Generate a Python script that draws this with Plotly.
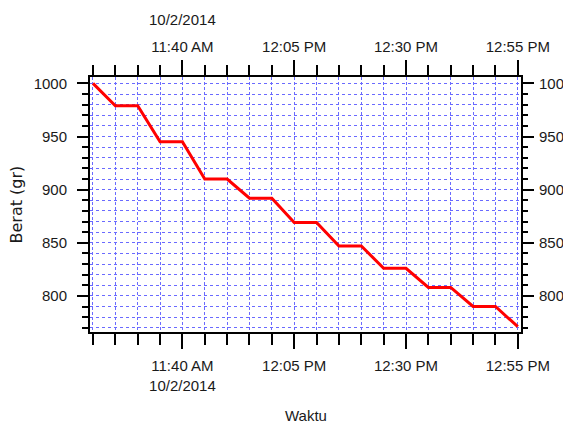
import plotly.graph_objects as go

# ---- data ----
times = ["2014-10-02 11:20:00", "2014-10-02 11:25:00", "2014-10-02 11:30:00",
         "2014-10-02 11:35:00", "2014-10-02 11:40:00", "2014-10-02 11:45:00",
         "2014-10-02 11:50:00", "2014-10-02 11:55:00", "2014-10-02 12:00:00",
         "2014-10-02 12:05:00", "2014-10-02 12:10:00", "2014-10-02 12:15:00",
         "2014-10-02 12:20:00", "2014-10-02 12:25:00", "2014-10-02 12:30:00",
         "2014-10-02 12:35:00", "2014-10-02 12:40:00", "2014-10-02 12:45:00",
         "2014-10-02 12:50:00", "2014-10-02 12:55:00"]
berat = [1000, 979, 979, 945, 945, 910, 910, 892, 892, 869,
         869, 847, 847, 826, 826, 808, 808, 790, 790, 771]

# tick positions (every 5 minutes) and labelled major ticks
x_ticks_all = ["2014-10-02 11:20", "2014-10-02 11:25", "2014-10-02 11:30",
               "2014-10-02 11:35", "2014-10-02 11:40", "2014-10-02 11:45",
               "2014-10-02 11:50", "2014-10-02 11:55", "2014-10-02 12:00",
               "2014-10-02 12:05", "2014-10-02 12:10", "2014-10-02 12:15",
               "2014-10-02 12:20", "2014-10-02 12:25", "2014-10-02 12:30",
               "2014-10-02 12:35", "2014-10-02 12:40", "2014-10-02 12:45",
               "2014-10-02 12:50", "2014-10-02 12:55"]
x_major = ["2014-10-02 11:40", "2014-10-02 12:05", "2014-10-02 12:30", "2014-10-02 12:55"]
x_labels_bottom = ["11:40 AM<br>10/2/2014", "12:05 PM", "12:30 PM", "12:55 PM"]
x_labels_top = ["11:40 AM", "12:05 PM", "12:30 PM", "12:55 PM"]
date_label = "10/2/2014"
y_ticks_all = [770, 780, 790, 800, 810, 820, 830, 840, 850, 860, 870, 880,
               890, 900, 910, 920, 930, 940, 950, 960, 970, 980, 990, 1000]
y_major = [800, 850, 900, 950, 1000]
y_labels = ["800", "850", "900", "950", "1000"]

x_range = ["2014-10-02 11:19:20", "2014-10-02 12:55:43"]
y_range = [766, 1006]

FONT = "Liberation Sans, Arial, sans-serif"
TXT = "#1a1a1a"
GRID = "#6a6aff"


def full_text(all_vals, major_vals, labels):
    m = dict(zip(major_vals, labels))
    return [m.get(v, "") for v in all_vals]


xb_text = full_text(x_ticks_all, x_major, x_labels_bottom)
xt_text = full_text(x_ticks_all, x_major, x_labels_top)
y_text = full_text(y_ticks_all, y_major, y_labels)

fig = go.Figure()
fig.add_trace(go.Scatter(x=times, y=berat, mode="lines",
                         line=dict(color="#ff0000", width=3),
                         showlegend=False, hoverinfo="skip"))
for xa, ya in [("x2", "y2"), ("x3", "y3"), ("x4", "y4")]:
    fig.add_trace(go.Scatter(x=times, y=berat, mode="lines", xaxis=xa, yaxis=ya,
                             line=dict(color="rgba(0,0,0,0)", width=0),
                             showlegend=False, hoverinfo="skip"))

tickfont = dict(family=FONT, size=15, color=TXT)
tick_common = dict(ticks="outside", tickwidth=2, tickcolor="black", zeroline=False)
no_grid = dict(showgrid=False, showline=False, zeroline=False)

fig.update_layout(
    template="none",
    # page body has an 8px default margin, so the figure is 8px smaller
    width=563, height=426,
    margin=dict(l=82, r=49.5, t=69, b=102, autoexpand=False),
    paper_bgcolor="white", plot_bgcolor="white",
    font=dict(family=FONT, color=TXT),
    xaxis=dict(type="date", range=x_range, tickmode="array", tickvals=x_ticks_all,
               ticktext=xb_text, ticklen=11, tickfont=tickfont, ticklabelstandoff=8,
               showline=True, linecolor="black", linewidth=2, mirror=True,
               showgrid=True, gridcolor=GRID, gridwidth=1, griddash="3px,2px",
               **tick_common),
    xaxis2=dict(type="date", range=x_range, overlaying="x", side="top", anchor="y",
                tickmode="array", tickvals=x_ticks_all, ticktext=xt_text, ticklen=11,
                tickfont=tickfont, ticklabelstandoff=7, ticks="outside", tickwidth=2,
                tickcolor="black", **no_grid),
    xaxis3=dict(type="date", range=x_range, overlaying="x", side="bottom", anchor="y",
                tickmode="array", tickvals=x_major, ticklen=16, showticklabels=False,
                ticks="outside", tickwidth=2, tickcolor="black", **no_grid),
    xaxis4=dict(type="date", range=x_range, overlaying="x", side="top", anchor="y",
                tickmode="array", tickvals=x_major, ticklen=16, showticklabels=False,
                ticks="outside", tickwidth=2, tickcolor="black", **no_grid),
    yaxis=dict(range=y_range, tickmode="array", tickvals=y_ticks_all, ticktext=y_text,
               ticklen=6, tickfont=tickfont, ticklabelstandoff=12,
               showline=True, linecolor="black", linewidth=2, mirror=True,
               showgrid=True, gridcolor=GRID, gridwidth=1, griddash="dot",
               **tick_common),
    yaxis2=dict(range=y_range, overlaying="y", side="right", anchor="x",
                tickmode="array", tickvals=y_ticks_all, ticktext=y_text, ticklen=6,
                tickfont=tickfont, ticklabelstandoff=8, ticks="outside", tickwidth=2,
                tickcolor="black", **no_grid),
    yaxis3=dict(range=y_range, overlaying="y", side="left", anchor="x",
                tickmode="array", tickvals=y_major, ticklen=12, showticklabels=False,
                ticks="outside", tickwidth=2, tickcolor="black", **no_grid),
    yaxis4=dict(range=y_range, overlaying="y", side="right", anchor="x",
                tickmode="array", tickvals=y_major, ticklen=12, showticklabels=False,
                ticks="outside", tickwidth=2, tickcolor="black", **no_grid),
    annotations=[
        dict(text=date_label, xref="x", yref="paper", x=x_major[0], y=1,
             yshift=57.5, showarrow=False, xanchor="center", yanchor="middle",
             font=dict(family=FONT, size=15, color=TXT)),
        dict(text="Berat (gr)", xref="paper", yref="paper", x=0, y=0.5,
             xshift=-74, textangle=-90, showarrow=False, xanchor="center",
             yanchor="middle", font=dict(family="DejaVu Sans, sans-serif", size=16,
                                         color=TXT)),
        dict(text="Waktu", xref="paper", yref="paper", x=0.5, y=0, yshift=-83,
             showarrow=False, xanchor="center", yanchor="middle",
             font=dict(family=FONT, size=15, color=TXT)),
    ],
)

fig.write_html("out.html")
